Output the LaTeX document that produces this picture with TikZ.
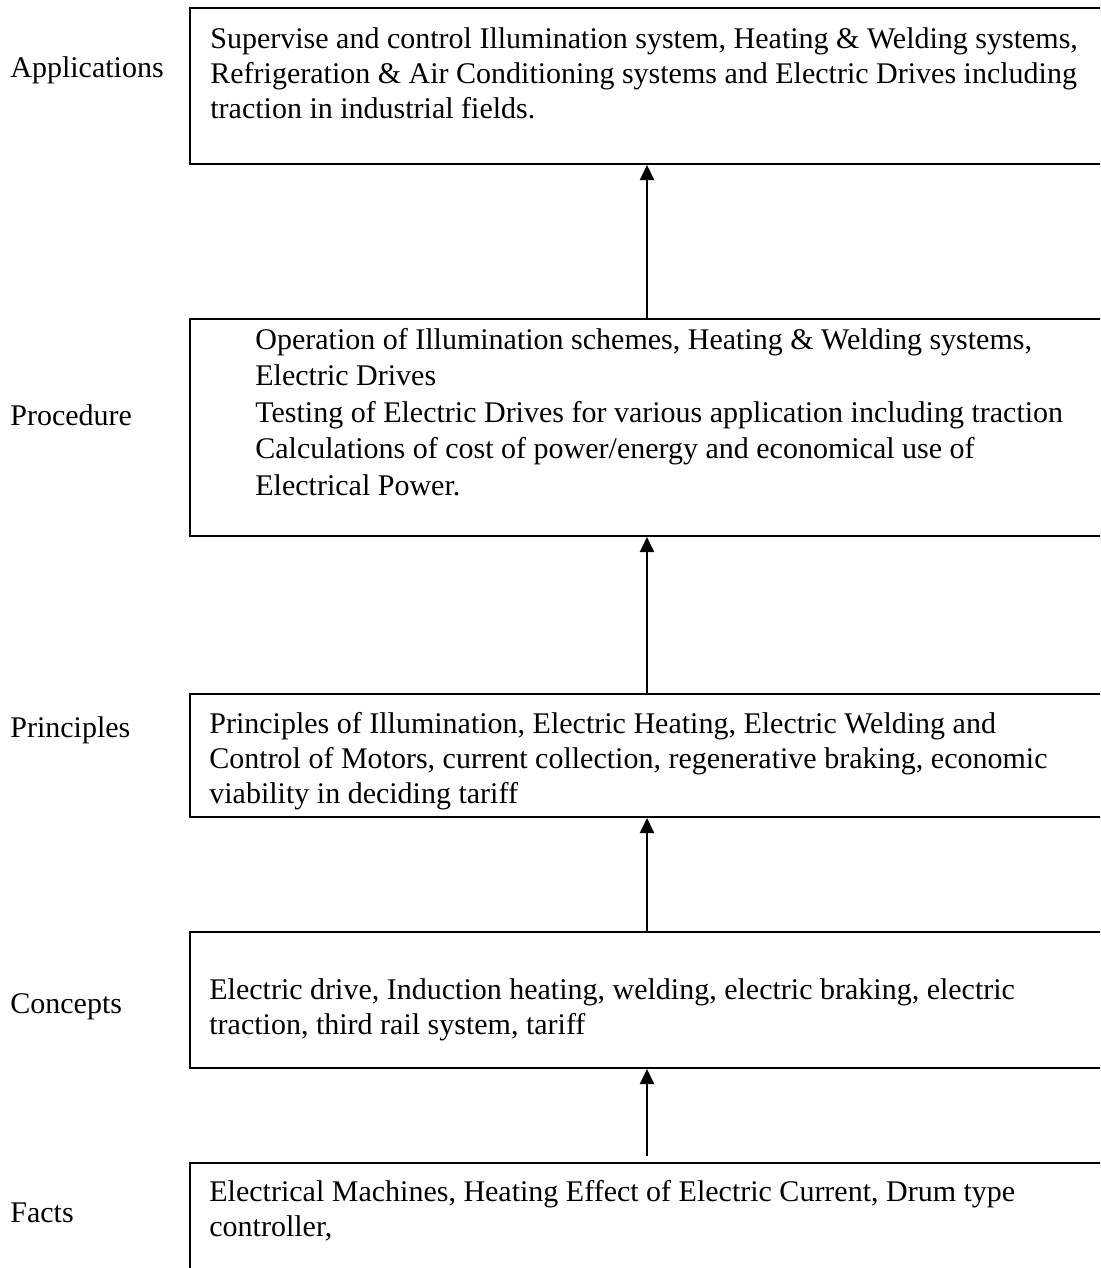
\documentclass[tikz,border=0pt]{standalone}
\usepackage{fontspec}
\setmainfont{Liberation Serif}
\usetikzlibrary{fit,arrows.meta}

\begin{document}
\begin{tikzpicture}[
  x=0.5pt, y=-0.5pt,
  every node/.style={font=\fontsize{15}{17.5}\selectfont},
  box/.style={draw, line width=1pt, inner sep=0pt},
  boxtext/.style={anchor=north west, align=left, inner sep=0pt},
  level/.style={anchor=base west, inner sep=0pt},
  rise/.style={line width=1pt, -{Triangle[length=7.5pt,width=7pt]}}
]
\useasboundingbox (0,0) rectangle (1100,1268);
\clip (0,0) rectangle (1100,1268);

% one box per level, top to bottom
\node[box, fit={(190,8) (1104,164)}] (applications) {};
\node[box, fit={(190,319) (1104,536)}] (procedure) {};
\node[box, fit={(190,694) (1104,817)}] (principles) {};
\node[box, fit={(190,932) (1104,1068)}] (concepts) {};
\node[box, fit={(190,1163) (1104,1300)}] (facts) {};

\node[boxtext] (applications text) at (210,27) {Supervise and control Illumination system, Heating \& Welding systems,\\
  Refrigeration \& Air Conditioning systems and Electric Drives including\\
  traction in industrial fields.};
\node[boxtext, font=\fontsize{15}{18.2}\selectfont] (procedure text) at (255,328) {Operation of Illumination schemes, Heating \& Welding systems,\\
  Electric Drives\\
  Testing of Electric Drives for various application including traction\\
  Calculations of cost of power/energy and economical use of\\
  Electrical Power.};
\node[boxtext] (principles text) at (209,712) {Principles of Illumination, Electric Heating, Electric Welding and\\
  Control of Motors, current collection, regenerative braking, economic\\
  viability in deciding tariff};
\node[boxtext] (concepts text) at (209,978) {Electric drive, Induction heating, welding, electric braking, electric\\
  traction, third rail system, tariff};
\node[boxtext] (facts text) at (209,1180) {Electrical Machines, Heating Effect of Electric Current, Drum type\\
  controller,};

% level names on the left
\foreach \name/\y in {Applications/78, Procedure/425, Principles/737, Concepts/1013, Facts/1222}
  \node[level] (label \name) at (10,\y) {\name};

% arrows from each level up to the next
\foreach \from/\to in {procedure/applications, principles/procedure, concepts/principles}
  \draw[rise] (\from) -- (\to);
\draw[rise, shorten <=3pt] (facts) -- (concepts);
\end{tikzpicture}
\end{document}
